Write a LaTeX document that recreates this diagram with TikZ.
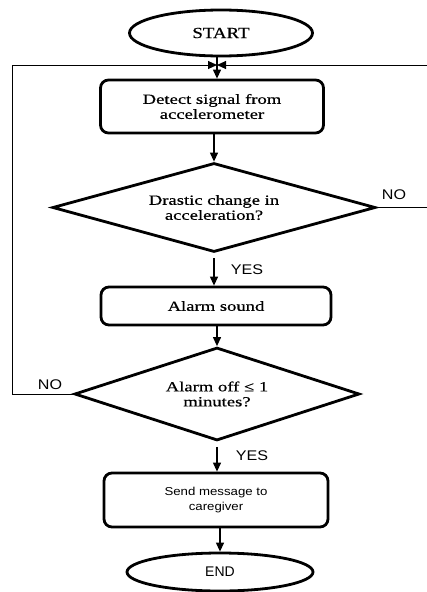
\documentclass[tikz,border=0pt]{standalone}
\usepackage{fontspec}
\newfontfamily\serifw[FakeStretch=1.33,FakeBold=0.5]{Liberation Serif}
\newfontfamily\serift[FakeStretch=1.22,FakeBold=0.5]{Liberation Serif}
\newfontfamily\sansw[FakeStretch=1.15]{Liberation Sans}
\newfontfamily\sansn{Liberation Sans}
\usetikzlibrary{shapes.geometric,arrows.meta}
\begin{document}
\begin{tikzpicture}[x=1pt,y=-1pt,
  box/.style={draw, line width=2.8pt, rounded corners=8pt, align=center, inner sep=0pt,
    font=\serifw\fontsize{14}{15}\selectfont},
  term/.style={draw, ellipse, line width=2.8pt, inner sep=0pt},
  dec/.style={draw, diamond, line width=2.8pt, align=center, inner sep=0pt,
    font=\serifw\fontsize{14}{15}\selectfont},
  flow/.style={line width=1.2pt, -{Triangle[length=9pt,width=8pt]}},
  loopline/.style={line width=1pt, -{Triangle[length=9pt,width=8pt]}},
  lbl/.style={font=\sansw\fontsize{14}{16}\selectfont, inner sep=0pt}]
\useasboundingbox (0,0) rectangle (427,592);
\clip (0,0) rectangle (427,592);

\node[term, minimum width=183pt, minimum height=46pt, font=\serift\fontsize{15.5}{16}\selectfont] (start) at (221,33) {START};
\node[box, minimum width=223pt, minimum height=53pt] (detect) at (212,106.5) {Detect signal from\\accelerometer};
\node[dec, aspect=3.63, minimum width=323pt, minimum height=89pt] (d1) at (214,207.5) {Drastic change in\\acceleration?};
\node[box, minimum width=230pt, minimum height=38pt] (alarm) at (216,306) {Alarm sound};
\node[dec, aspect=3.06, minimum width=285pt, minimum height=93pt] (d2) at (217,394) {Alarm off ≤ 1\\minutes?};
\node[box, minimum width=224pt, minimum height=54pt, font=\sansw\fontsize{11.5}{15}\selectfont] (send) at (216,500) {Send message to\\caregiver};
\node[term, minimum width=186pt, minimum height=38pt, font=\sansn\fontsize{14}{16}\selectfont] (end) at (220,572) {END};

\node[lbl] (no1) at (394,195) {NO};
\node[lbl] (no2) at (50,385) {NO};
\node[lbl] (yes1) at (247,270) {YES};
\node[lbl] (yes2) at (252,456) {YES};

\coordinate (j) at (217,65);
\coordinate (lb) at (12,397);
\coordinate (lt) at (12,65);
\coordinate (rb) at (440,207.5);
\coordinate (rt) at (440,65);

\draw[flow] (start.south -| j) -- (j) -- (j |- detect.north);
\draw[flow] (detect.south -| d1) -- (d1.north);
\draw[flow, shorten <=5pt] (d1.south) -- (d1.south |- alarm.north);
\draw[flow] (alarm.south -| d2) -- (d2.north);
\draw[flow, shorten <=5pt] (d2.south) -- (d2.south |- send.north);
\draw[flow] (send.south -| end) -- (end.north);

\draw[loopline] (d2.west) -- (d2.west -| lb) -- (lt) -- (j);
\draw[loopline] (d1.east) -- (rb) -- (rt) -- (j);
\end{tikzpicture}
\end{document}
